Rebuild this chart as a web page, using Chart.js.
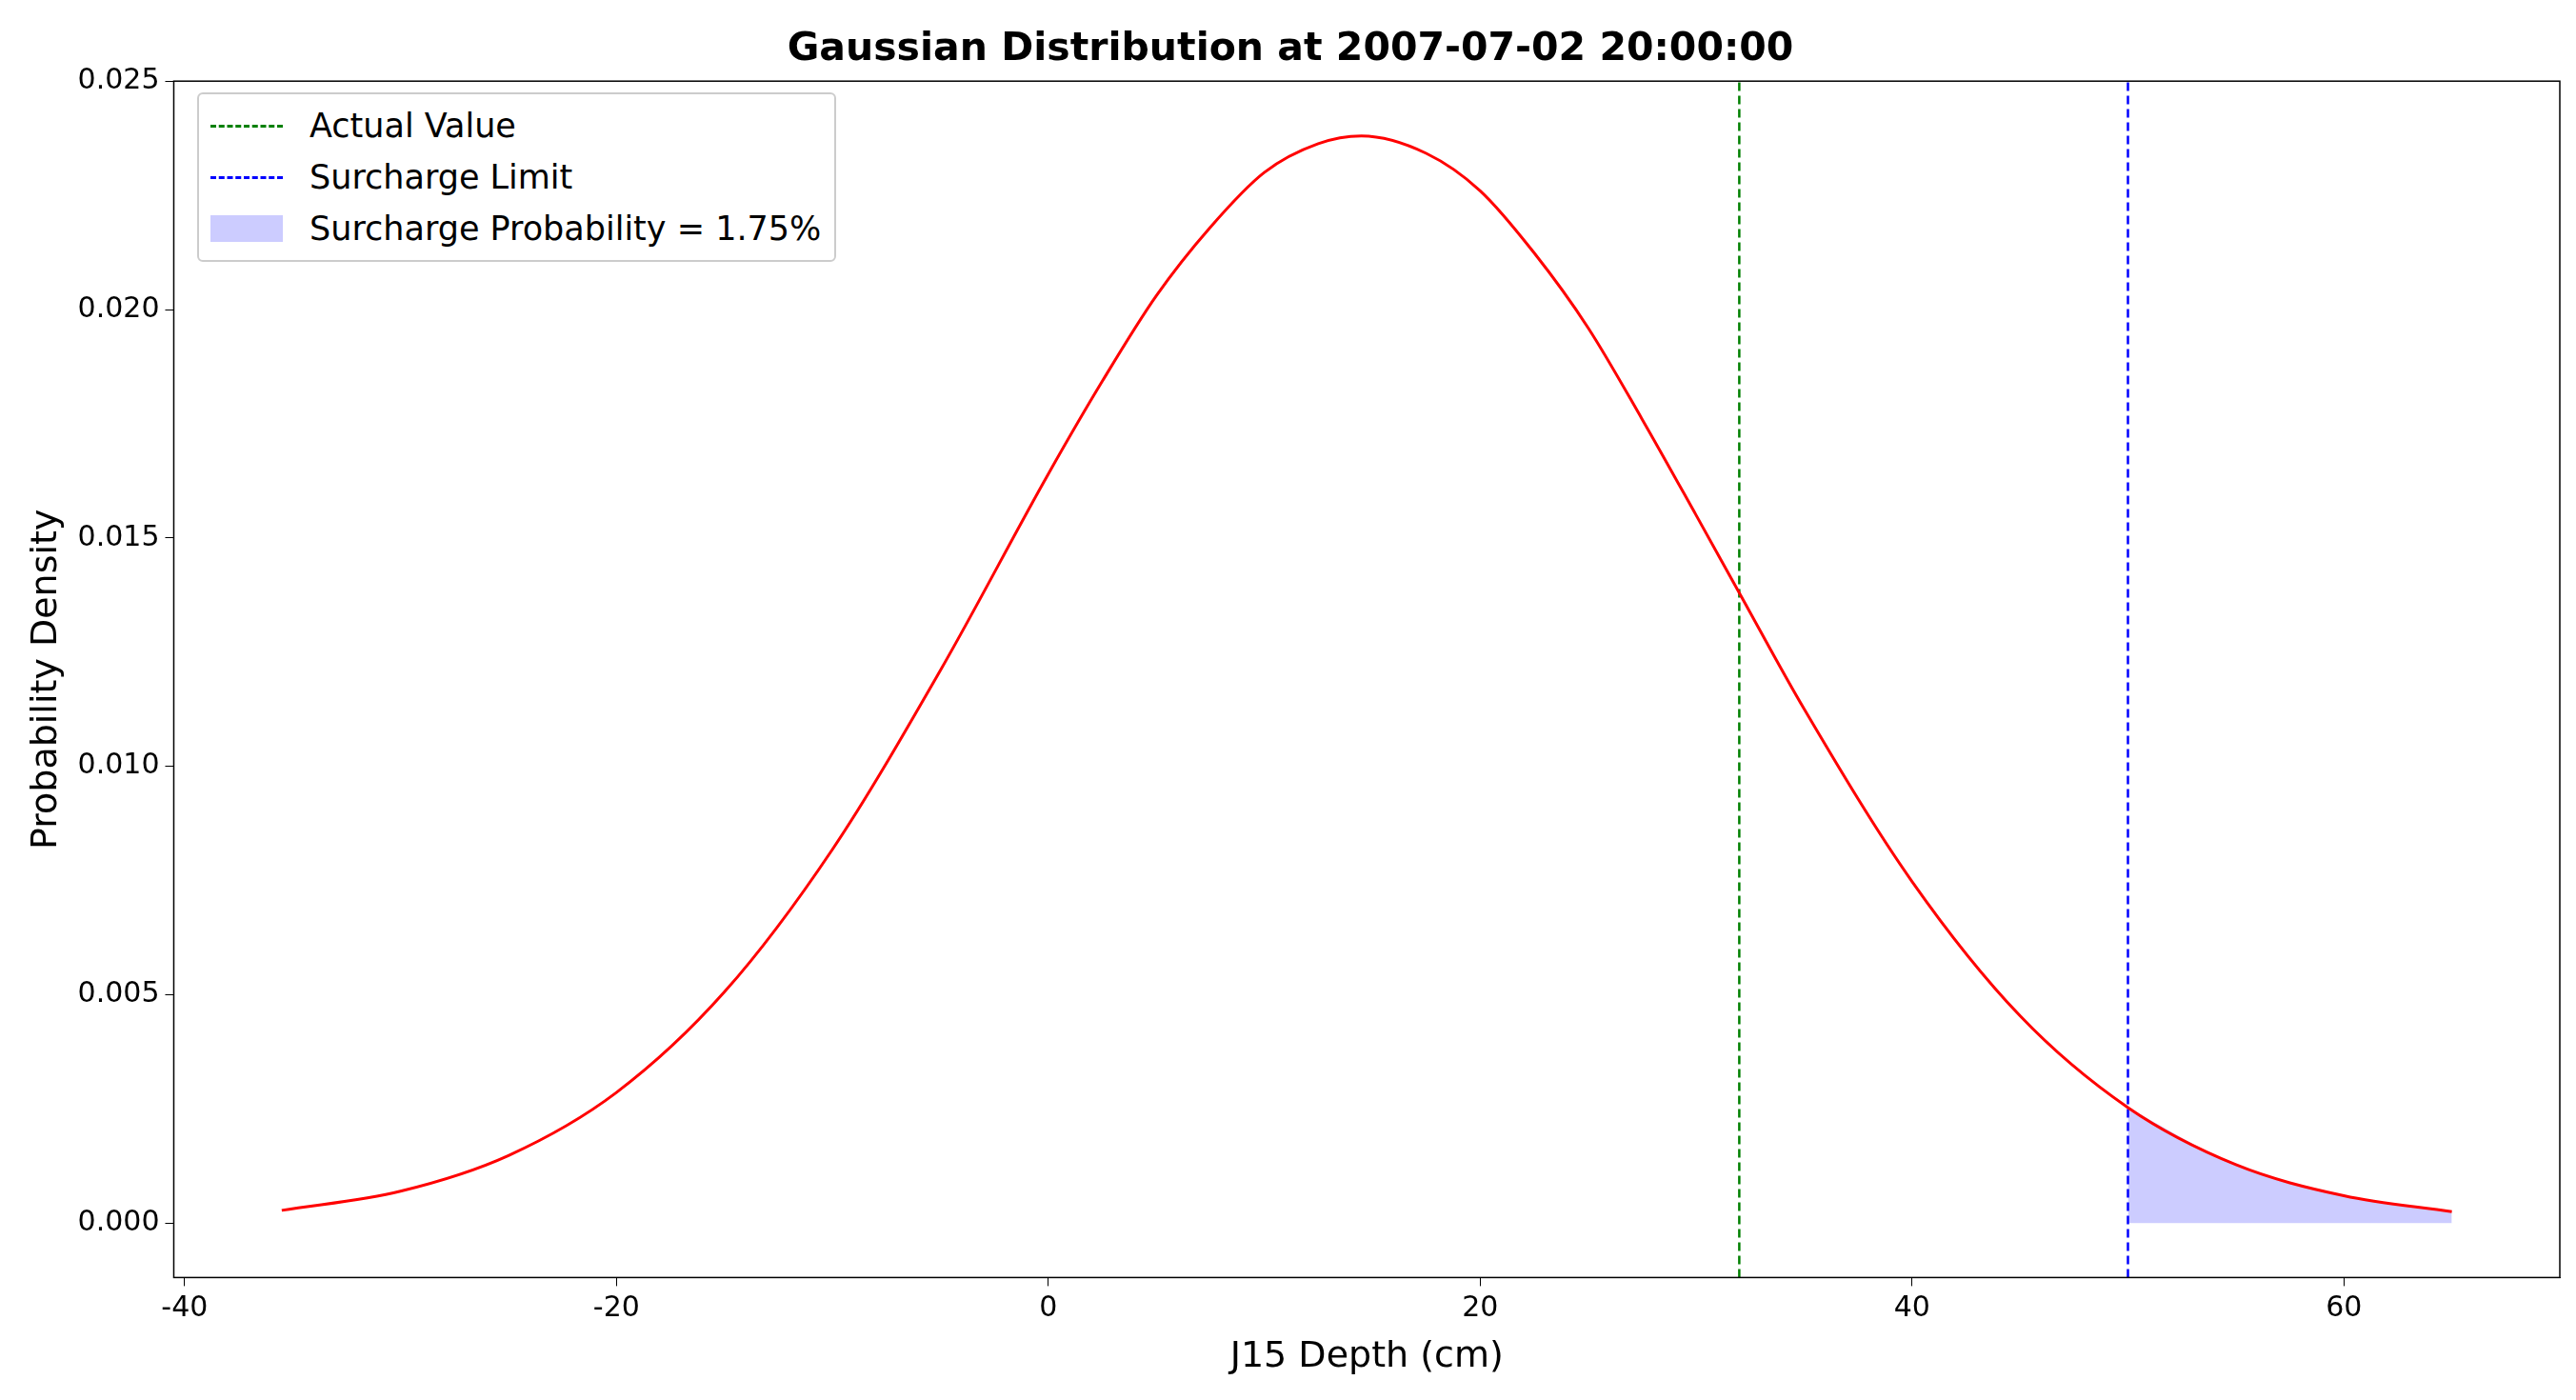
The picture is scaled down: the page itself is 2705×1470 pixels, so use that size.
<!DOCTYPE html>
<html>
<head>
<meta charset="utf-8">
<script src="https://cdn.jsdelivr.net/npm/chart.js@4.4.1/dist/chart.umd.min.js"></script>
<style>
  body { margin: 0; background: #fff; }
  #wrap { position: relative; width: 2705px; height: 1470px; }
  #legend {
    position: absolute; left: 207px; top: 97px;
    border: 2px solid #ccc; border-radius: 6px; background: #fff;
    font-family: "DejaVu Sans", sans-serif; font-size: 35px; padding: 6px 14px 6px 12px;
  }
  .row { display: flex; align-items: center; height: 54px; }
  .sample { width: 76px; margin-right: 28px; }
</style>
</head>
<body>
<div id="wrap">
  <canvas id="chart" width="2705" height="1470"></canvas>
  <div id="legend">
    <div class="row"><div class="sample" style="border-top:3px dashed green"></div>Actual Value</div>
    <div class="row"><div class="sample" style="border-top:3px dashed blue"></div>Surcharge Limit</div>
    <div class="row"><div class="sample" style="height:28px;background:rgba(0,0,255,0.2)"></div>Surcharge Probability = 1.75%</div>
  </div>
</div>
<script>
// values
const depth = [-35.5, -30, -25, -20, -15, -10, -5, 0, 2.5, 5, 7.5, 10, 12.5, 14.5, 17.5, 20, 22.5, 25, 27.5, 30, 32, 35, 40, 45, 50, 55, 60, 65];
const density = [0.00028, 0.0007, 0.00148, 0.00286, 0.00506, 0.00818, 0.0121, 0.0164, 0.01843, 0.0203, 0.0218, 0.023, 0.02363, 0.0238,
  0.02342, 0.0226, 0.02124, 0.0196, 0.0176, 0.0155, 0.0138, 0.01126, 0.00748, 0.00454, 0.00253, 0.00128, 0.0006, 0.00025];
const tailDepth = [50, 55, 60, 65];
const tailDensity = [0.00253, 0.00128, 0.0006, 0.00025];
const actualValue = 32;
const surchargeLimit = 50;
const xTicks = [-40, -20, 0, 20, 40, 60];
const yTicks = [0, 0.005, 0.01, 0.015, 0.02, 0.025];

const pts = (xs, ys) => xs.map((x, i) => ({ x: x, y: ys[i] }));
const vline = (x) => [{ x: x, y: -0.00119 }, { x: x, y: 0.025 }];
const font = { family: "DejaVu Sans", size: 30 };

const frame = {
  id: "frame",
  afterDraw(chart) {
    const { ctx, chartArea: a } = chart;
    ctx.save();
    ctx.strokeStyle = "#000";
    ctx.lineWidth = 1.5;
    ctx.strokeRect(a.left, a.top, a.right - a.left, a.bottom - a.top);
    ctx.restore();
  }
};

new Chart(document.getElementById("chart"), {
  type: "scatter",
  data: {
    datasets: [
      { data: pts(depth, density), showLine: true, borderColor: "red", borderWidth: 3, pointRadius: 0, cubicInterpolationMode: "monotone" },
      { data: pts(tailDepth, tailDensity), showLine: true, borderWidth: 0, pointRadius: 0, fill: "origin", backgroundColor: "rgba(0,0,255,0.2)", cubicInterpolationMode: "monotone" },
      { data: vline(actualValue), showLine: true, borderColor: "green", borderWidth: 2.5, borderDash: [9, 5], pointRadius: 0 },
      { data: vline(surchargeLimit), showLine: true, borderColor: "blue", borderWidth: 2.5, borderDash: [9, 5], pointRadius: 0 }
    ]
  },
  options: {
    responsive: false,
    animation: false,
    layout: { padding: { top: 0, right: 17, bottom: 18, left: 22 } },
    plugins: {
      legend: { display: false },
      tooltip: { enabled: false },
      title: {
        display: true, text: "Gaussian Distribution at 2007-07-02 20:00:00",
        font: { family: "DejaVu Sans", size: 41, weight: "bold" }, color: "#000",
        padding: { top: 28, bottom: 8 }
      }
    },
    scales: {
      x: {
        type: "linear", min: -40.5, max: 70,
        afterBuildTicks: (s) => { s.ticks = xTicks.map(v => ({ value: v })); },
        ticks: { font: font, color: "#000", padding: 6 },
        grid: { drawOnChartArea: false, tickLength: 9, color: "#000" },
        border: { color: "#000" },
        title: { display: true, text: "J15 Depth (cm)", font: { family: "DejaVu Sans", size: 38 }, color: "#000" }
      },
      y: {
        min: -0.00119, max: 0.025,
        afterBuildTicks: (s) => { s.ticks = yTicks.map(v => ({ value: v })); },
        ticks: { font: font, color: "#000", padding: 6, callback: (v) => v.toFixed(3) },
        grid: { drawOnChartArea: false, tickLength: 9, color: "#000" },
        border: { color: "#000" },
        title: { display: true, text: "Probability Density", font: { family: "DejaVu Sans", size: 38 }, color: "#000" }
      }
    }
  },
  plugins: [frame]
});
</script>
</body>
</html>
